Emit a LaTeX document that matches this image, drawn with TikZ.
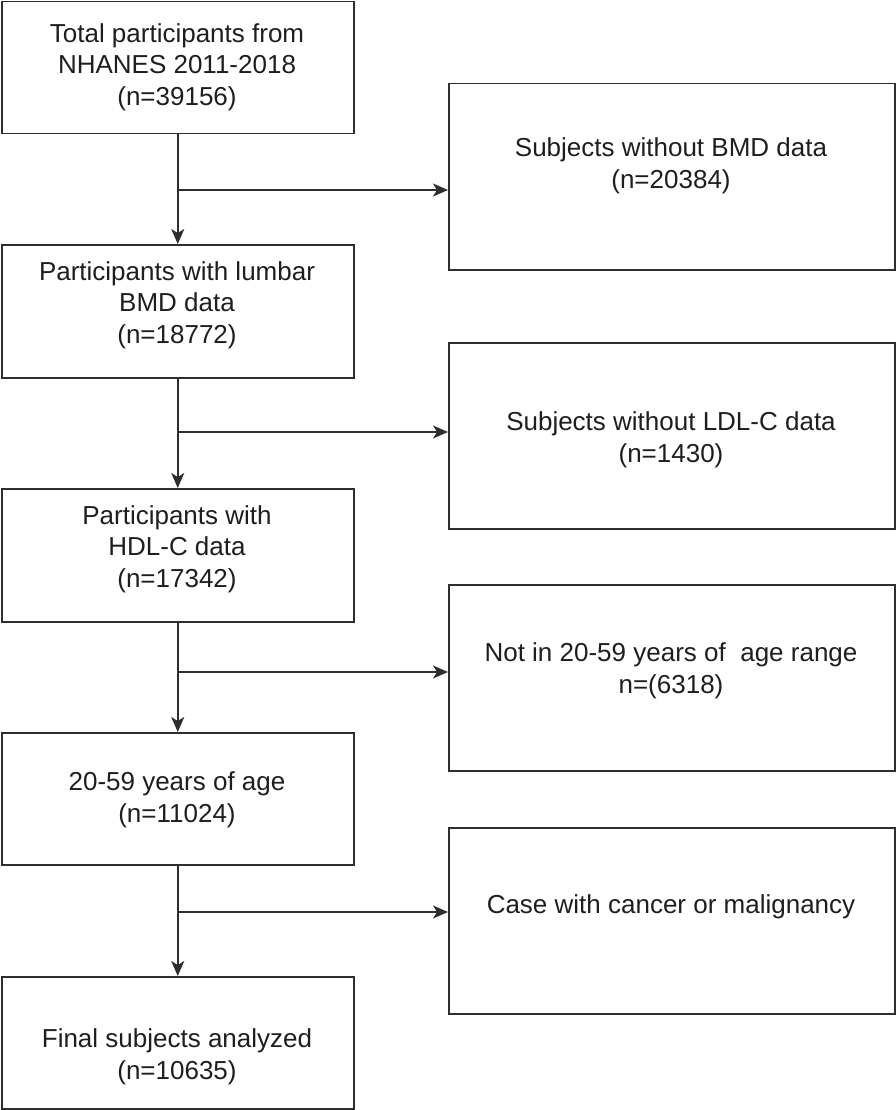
\documentclass[tikz,border=0pt]{standalone}
\usepackage{fontspec}
\setmainfont{Liberation Sans}
\usetikzlibrary{arrows.meta}
\definecolor{linec}{HTML}{2E2E2E}
\definecolor{textc}{HTML}{1E1E1E}
\begin{document}
\begin{tikzpicture}[x=1pt,y=-1pt,
  boxL/.style={draw=linec,line width=1.5pt,minimum width=352pt,minimum height=#1,inner sep=0pt,anchor=north west},
  boxR/.style={draw=linec,line width=1.5pt,minimum width=446pt,minimum height=#1,inner sep=0pt,anchor=north west},
  txt/.style={text=textc,font=\fontsize{26}{31.5}\selectfont,align=center,inner sep=0pt},
  conn/.style={draw=linec,line width=1.5pt},
  arr/.style={conn,-{Stealth[length=15pt,width=13pt,inset=4pt]}}]
\useasboundingbox (0,0) rectangle (896,1110);
% left column boxes
\node[boxL=132pt] (b1) at (1,1) {};
\node[boxL=133pt] (b2) at (1,244) {};
\node[boxL=133pt] (b3) at (1,488) {};
\node[boxL=132pt] (b4) at (1,732) {};
\node[boxL=132pt] (b5) at (1,976) {};
% right column boxes
\node[boxR=186pt] (r1) at (448,83) {};
\node[boxR=186pt] (r2) at (448,342) {};
\node[boxR=186pt] (r3) at (448,584) {};
\node[boxR=186pt] (r4) at (448,827) {};
% texts
\node[txt] (t1) at (177,67) {Total participants from\\NHANES 2011-2018\\(n=39156)};
\node[txt] (t2) at (177,305) {Participants with lumbar\\BMD data\\(n=18772)};
\node[txt] (t3) at (177,549) {Participants with\\HDL-C data\\(n=17342)};
\node[txt] (t4) at (177,800) {20-59 years of age\\(n=11024)};
\node[txt] (t5) at (177,1057) {Final subjects analyzed\\(n=10635)};
\node[txt] (u1) at (671,166) {Subjects without BMD data\\(n=20384)};
\node[txt] (u2) at (671,440) {Subjects without LDL-C data\\(n=1430)};
\node[txt] (u3) at (671,671) {Not in 20-59 years of\ \ age range\\n=(6318)};
\node[txt] (u4) at (671,907) {Case with cancer or malignancy};
% branch points
\coordinate (k1) at (177,190);
\coordinate (k2) at (177,432);
\coordinate (k3) at (177,672);
\coordinate (k4) at (177,912);
% connectors
\draw[arr] (b1.south) -- (b2.north);
\draw[arr] (b2.south) -- (b3.north);
\draw[arr] (b3.south) -- (b4.north);
\draw[arr] (b4.south) -- (b5.north);
\draw[arr] (k1) -- (k1 -| r1.west);
\draw[arr] (k2) -- (k2 -| r2.west);
\draw[arr] (k3) -- (k3 -| r3.west);
\draw[arr] (k4) -- (k4 -| r4.west);
\end{tikzpicture}
\end{document}
